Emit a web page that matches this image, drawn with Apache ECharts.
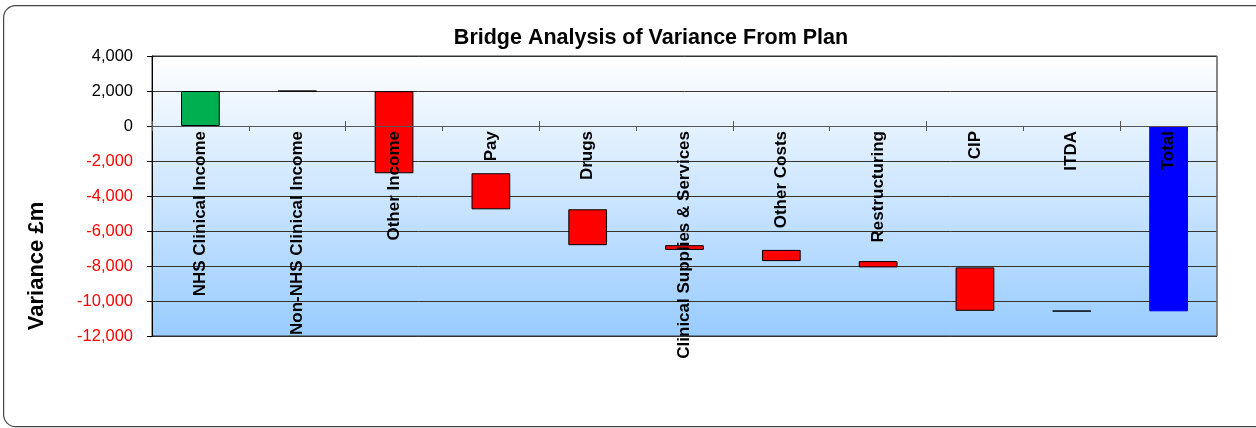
<!DOCTYPE html>
<html>
<head>
<meta charset="utf-8">
<script src="https://cdn.jsdelivr.net/npm/echarts@6/dist/echarts.min.js"></script>
<style>
  html, body { margin: 0; padding: 0; background: #fff; }
  #main { width: 1256px; height: 428px; }
</style>
</head>
<body>
<div id="main"></div>
<script>
// categories along the bridge
var categories = ['NHS Clinical Income', 'Non-NHS Clinical Income', 'Other Income', 'Pay', 'Drugs',
  'Clinical Supplies & Services', 'Other Costs', 'Restructuring', 'CIP', 'ITDA', 'Total'];
// movement of each step (£m), total is last
var changes = [2000, -10, -4690, -2060, -2050, -270, -640, -360, -2480, -30, -10590];
// colour of each step
var barColors = ['#00b050', '#ff0000', '#ff0000', '#ff0000', '#ff0000', '#ff0000',
  '#ff0000', '#ff0000', '#ff0000', '#ff0000', '#0000ff'];
var yTicks = { min: -12000, max: 4000, step: 2000 };

// invisible base = running total before each step (total starts from 0)
var base = [];
var run = 0;
for (var i = 0; i < changes.length; i++) {
  var isTotal = i === changes.length - 1;
  base.push(isTotal ? 0 : run);
  run += changes[i];
}

// zero line sits 4000 below the top of a 280px high plot spanning 16000
var zeroOffset = 280 * (yTicks.max - 0) / (yTicks.max - yTicks.min);

var myChart = echarts.init(document.getElementById('main'));

var option = {
  animation: false,
  textStyle: { fontFamily: 'Liberation Sans, Arial, sans-serif' },
  title: {
    text: 'Bridge Analysis of Variance From Plan',
    left: 646, top: 22, textAlign: 'center',
    textStyle: { fontSize: 21.5, fontWeight: 'bold', color: '#000' }
  },
  graphic: [{
    type: 'rect', left: 3, top: 5, z: -10, silent: true,
    shape: { width: 1270, height: 421, r: 12 },
    style: { fill: '#fff', stroke: '#444', lineWidth: 1.2 }
  }, {
    // grey frame on the right of the plot
    type: 'line', silent: true, z: 5,
    shape: { x1: 1217, y1: 56, x2: 1217, y2: 336 },
    style: { stroke: '#808080', lineWidth: 1.5 }
  }, {
    type: 'text', silent: true, x: 37, y: 266, rotation: Math.PI / 2,
    style: {
      text: 'Variance £m', align: 'center', verticalAlign: 'middle',
      font: 'bold 22px "Liberation Sans", Arial, sans-serif', fill: '#000'
    }
  }],
  grid: {
    left: 152, right: 39, top: 56, bottom: 92,
    outerBoundsMode: 'none', containLabel: false,
    show: true, borderWidth: 1, borderColor: '#333',
    backgroundColor: new echarts.graphic.LinearGradient(0, 0, 0, 1, [
      { offset: 0, color: '#ffffff' },
      { offset: 1, color: '#99ccff' }
    ])
  },
  xAxis: [{
    type: 'category', data: categories, z: 10,
    position: 'bottom', offset: -(280 - zeroOffset),
    axisLine: { onZero: false, lineStyle: { color: '#555', width: 1 } },
    axisTick: { show: true, length: 5, lineStyle: { color: '#555' } },
    axisLabel: {
      rotate: 90, interval: 0, margin: 5,
      fontSize: 17, fontWeight: 'bold', color: '#000'
    },
    splitLine: { show: false }
  }, {
    // upper half of the category ticks, sitting on the zero line
    type: 'category', data: categories, position: 'top', offset: -zeroOffset,
    axisLine: { show: false, onZero: false },
    axisTick: { show: true, length: 5, lineStyle: { color: '#555' } },
    axisLabel: { show: false }
  }],
  yAxis: {
    type: 'value', min: yTicks.min, max: yTicks.max, interval: yTicks.step,
    axisLine: { show: true, lineStyle: { color: '#000' } },
    axisTick: { show: true, length: 5, lineStyle: { color: '#000' } },
    axisLabel: {
      fontSize: 16.5, margin: 19,
      color: function (v) { return v < 0 ? '#ff0000' : '#000'; },
      formatter: function (v) { return v.toLocaleString('en-GB'); }
    },
    splitLine: { lineStyle: { color: '#333', width: 1 } }
  },
  series: [{
    type: 'bar', stack: 'bridge', stackStrategy: 'all',
    barWidth: '40%', silent: true,
    itemStyle: { color: 'transparent', borderWidth: 0 },
    data: base
  }, {
    type: 'bar', stack: 'bridge', stackStrategy: 'all',
    barWidth: '40%',
    data: changes.map(function (v, i) {
      return {
        value: v,
        itemStyle: {
          color: barColors[i],
          borderColor: i === changes.length - 1 ? barColors[i] : '#000',
          borderWidth: 1
        }
      };
    })
  }]
};

myChart.setOption(option);
</script>
</body>
</html>
